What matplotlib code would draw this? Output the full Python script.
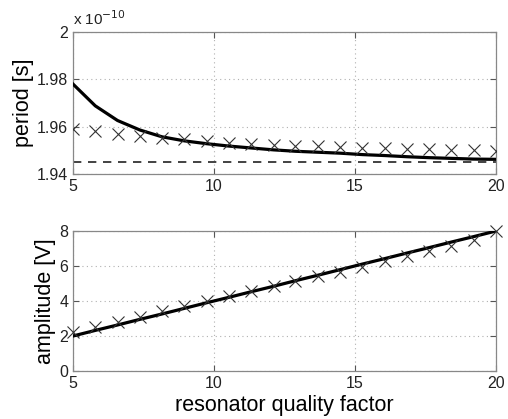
import matplotlib
matplotlib.use("Agg")
import matplotlib.pyplot as plt
import numpy as np

plt.rcParams['font.family'] = ['Liberation Sans', 'DejaVu Sans']

# resonator quality factor
q = [5.0, 5.79, 6.58, 7.37, 8.16, 8.95, 9.74, 10.53, 11.32, 12.11,
     12.89, 13.68, 14.47, 15.26, 16.05, 16.84, 17.63, 18.42, 19.21, 20.0]

# period, in units of 1e-10 s
period_meas = [1.9590, 1.9580, 1.9568, 1.9561, 1.9554, 1.9547, 1.9540, 1.9532, 1.9528, 1.9522,
               1.9519, 1.9517, 1.9514, 1.9511, 1.9508, 1.9506, 1.9504, 1.9502, 1.9501, 1.9497]
period_model = [1.9780, 1.9688, 1.9626, 1.9586, 1.9557, 1.9540, 1.9528, 1.9518, 1.9510, 1.9502,
                1.9496, 1.9492, 1.9488, 1.9482, 1.9478, 1.9473, 1.9469, 1.9466, 1.9463, 1.9462]
period_limit = 1.9450

# amplitude [V]
amp_meas = [2.25, 2.5, 2.8, 3.1, 3.45, 3.7, 3.98, 4.3, 4.55, 4.85,
            5.12, 5.42, 5.68, 5.97, 6.27, 6.57, 6.87, 7.17, 7.5, 8.0]
amp_model = [2.0, 2.32, 2.63, 2.95, 3.26, 3.58, 3.9, 4.21, 4.53, 4.84,
             5.16, 5.47, 5.79, 6.11, 6.42, 6.74, 7.05, 7.37, 7.68, 8.0]

fig = plt.figure(figsize=(5.08, 4.19), dpi=100)
ax1 = fig.add_axes([73/508, 1-174/419, 423/508, 142/419])
ax2 = fig.add_axes([73/508, 1-371/419, 423/508, 140/419])

def style(ax):
    ax.grid(True, linestyle=(0, (1, 3)), color='#b0b0b0', linewidth=0.8)
    ax.tick_params(direction='in', top=True, right=True, labelsize=11.5,
                   color='#555555', length=4, labelcolor='#222222')
    for s in ax.spines.values():
        s.set_color('#888888')
        s.set_linewidth(0.9)
    ax.set_xlim(5, 20)
    ax.set_xticks([5, 10, 15, 20])

ax1.plot(q, period_model, color='black', linewidth=2.3, zorder=3)
ax1.plot(q, period_meas, 'x', color='#333333', markersize=8, markeredgewidth=0.8, zorder=4)
ax1.axhline(period_limit, color='#222222', linestyle=(0, (5, 4)), linewidth=1.2)
ax1.set_ylim(1.94, 2.0)
ax1.set_yticks([1.94, 1.96, 1.98, 2.0])
ax1.set_yticklabels(['1.94', '1.96', '1.98', '2'])
ax1.set_ylabel('period [s]', fontsize=15.5, labelpad=2)
style(ax1)
ax1.text(0.0, 1.03, r'x 10$^{-10}$', transform=ax1.transAxes, fontsize=11,
         ha='left', va='bottom', color='#222222')

ax2.plot(q, amp_model, color='black', linewidth=2.3, zorder=3)
ax2.plot(q, amp_meas, 'x', color='#333333', markersize=8, markeredgewidth=0.8, zorder=4,
         clip_on=False)
ax2.set_ylim(0, 8)
ax2.set_yticks([0, 2, 4, 6, 8])
ax2.set_ylabel('amplitude [V]', fontsize=15.5, labelpad=2)
ax2.set_xlabel('resonator quality factor', fontsize=15.5, labelpad=3)
style(ax2)

fig.savefig('out.png', dpi=100)
